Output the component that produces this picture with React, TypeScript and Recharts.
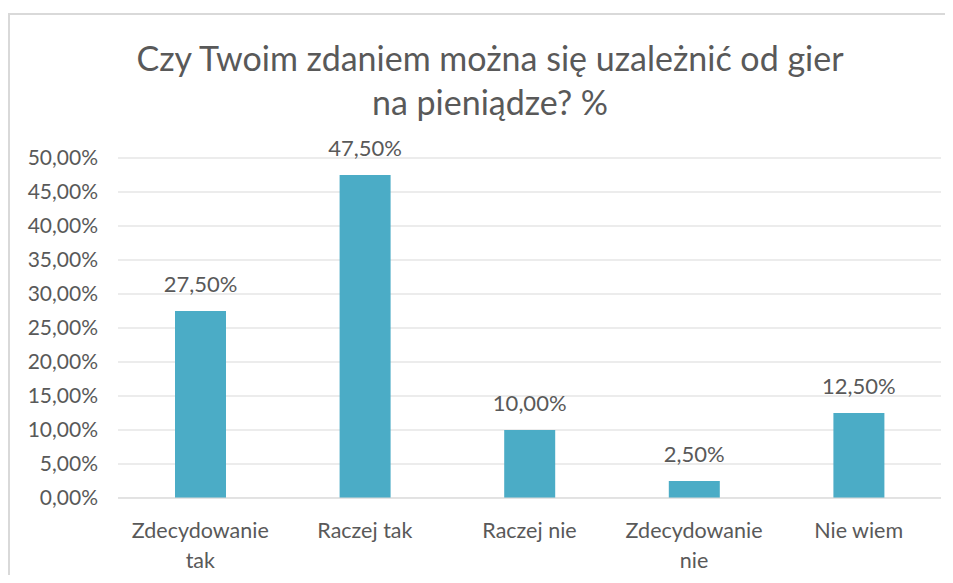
import { BarChart, Bar, XAxis, YAxis, CartesianGrid, LabelList } from "recharts";

const categories = ["Zdecydowanie tak", "Raczej tak", "Raczej nie", "Zdecydowanie nie", "Nie wiem"];
const values = [27.5, 47.5, 10, 2.5, 12.5];
const yTicks = [0, 5, 10, 15, 20, 25, 30, 35, 40, 45, 50];
const titleLines = ["Czy Twoim zdaniem można się uzależnić od gier", "na pieniądze? %"];

const TEXT = "#595959";
const FONT = "Lato, 'Open Sans', sans-serif";

const fmt = (v: number) => v.toFixed(2).replace(".", ",") + "%";

// wrap long category names onto two lines like Excel does
const wrapLabel = (s: string) => {
  if (s.length <= 11) return [s];
  const i = s.indexOf(" ");
  return [s.slice(0, i), s.slice(i + 1)];
};

const CategoryTick = ({ x, y, payload }: any) => {
  const lines = wrapLabel(payload.value);
  return (
    <text x={x} y={y} textAnchor="middle" fill={TEXT} fontSize={21.5} fontFamily={FONT}>
      {lines.map((l, i) => (
        <tspan key={i} x={x} dy={i === 0 ? 32 : 30}>
          {l}
        </tspan>
      ))}
    </text>
  );
};

export default function App() {
  const data = categories.map((name, i) => ({ name, value: values[i] }));

  return (
    <div style={{ position: "relative", width: 945, height: 567, overflow: "hidden", background: "#fff" }}>
      <div
        style={{
          position: "absolute",
          left: 0,
          top: 5,
          width: 945,
          height: 600,
          borderLeft: "2px solid #D9D9D9",
          borderTop: "2px solid #D9D9D9",
          boxSizing: "border-box",
        }}
      />
      <div
        style={{
          position: "absolute",
          left: 0,
          top: 28,
          width: 964,
          textAlign: "center",
          fontFamily: FONT,
          fontSize: 34,
          lineHeight: "44px",
          color: TEXT,
        }}
      >
        {titleLines.map((t) => (
          <div key={t}>{t}</div>
        ))}
      </div>
      <div style={{ position: "absolute", left: 0, top: 0 }}>
        <BarChart
          width={945}
          height={567}
          data={data}
          margin={{ top: 150, right: 12, bottom: 0, left: 0 }}
        >
          <CartesianGrid vertical={false} stroke="#D9D9D9" />
          <XAxis
            dataKey="name"
            axisLine={{ stroke: "#D9D9D9" }}
            tickLine={false}
            tick={<CategoryTick />}
            interval={0}
            height={77}
          />
          <YAxis
            domain={[0, 50]}
            ticks={yTicks}
            interval={0}
            width={110}
            axisLine={false}
            tickLine={false}
            tickSize={0}
            tickMargin={20}
            tickFormatter={fmt}
            tick={{ fill: TEXT, fontSize: 21, fontFamily: FONT }}
          />
          <Bar dataKey="value" fill="#4BACC6" barSize={51} isAnimationActive={false}>
            <LabelList
              dataKey="value"
              position="top"
              offset={19}
              formatter={(v: any) => fmt(Number(v))}
              fill={TEXT}
              fontSize={22}
              fontFamily={FONT}
            />
          </Bar>
        </BarChart>
      </div>
    </div>
  );
}
